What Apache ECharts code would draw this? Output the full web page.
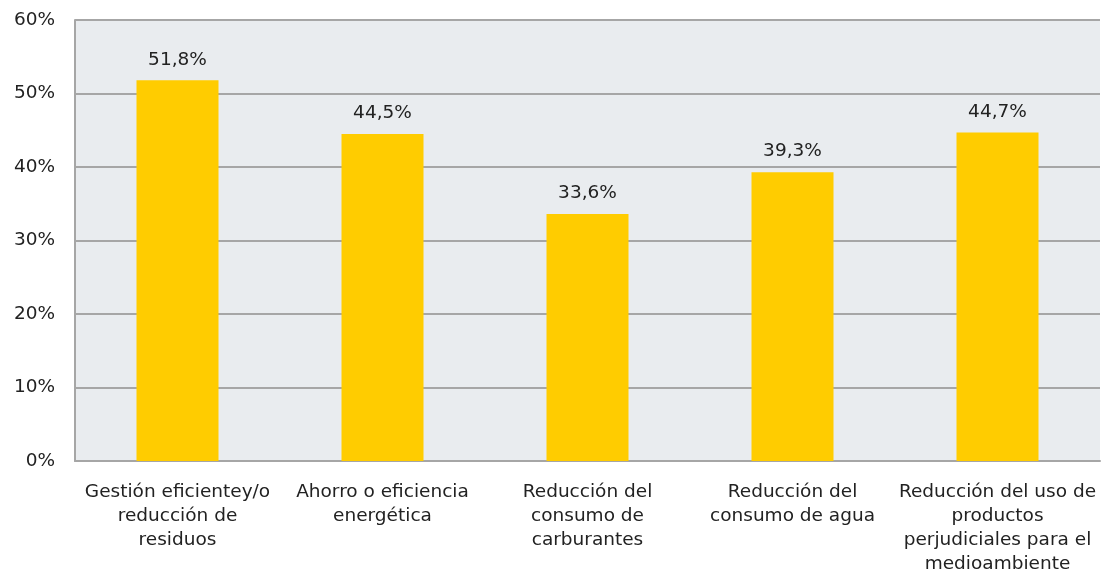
<!DOCTYPE html>
<html><head><meta charset="utf-8">
<script src="https://cdn.jsdelivr.net/npm/echarts@6/dist/echarts.min.js"></script>
<style>html,body{margin:0;padding:0;background:#fff}#c{width:1104px;height:576px}</style>
</head><body><div id="c"></div>
<script>
const categories = ["Gestión eficientey/o\nreducción de\nresiduos", "Ahorro o eficiencia\nenergética", "Reducción del\nconsumo de\ncarburantes", "Reducción del\nconsumo de agua", "Reducción del uso de\nproductos\nperjudiciales para el\nmedioambiente"];
const values = [51.8, 44.5, 33.6, 39.3, 44.7];
const yTicks = [0, 10, 20, 30, 40, 50, 60];
const font = "'DejaVu Sans', Verdana, sans-serif";
const chart = echarts.init(document.getElementById('c'));
chart.setOption({
  animation: false,
  grid: { left: 75, right: 4, top: 20, bottom: 114, backgroundColor: '#e9ecef', show: true, borderWidth: 0 },
  xAxis: {
    type: 'category', data: categories,
    axisLine: { show: true, lineStyle: { color: '#a6a6a6', width: 2 } },
    axisTick: { show: false },
    axisLabel: { color: '#222', fontFamily: font, fontSize: 18.5, lineHeight: 24, margin: 19, interval: 0 }
  },
  yAxis: {
    type: 'value', min: yTicks[0], max: yTicks[yTicks.length - 1], interval: 10,
    axisLine: { show: true, lineStyle: { color: '#a6a6a6', width: 2 } }, axisTick: { show: false },
    splitLine: { lineStyle: { color: '#a6a6a6', width: 2 } },
    axisLabel: { color: '#222', fontFamily: font, fontSize: 18.5, margin: 20, formatter: v => v + '%' }
  },
  series: [{
    type: 'bar', data: values, barWidth: '40%',
    itemStyle: { color: '#ffcc00' },
    label: { show: true, position: 'top', distance: 11, color: '#222', fontFamily: font, fontSize: 18.5,
      formatter: p => p.value.toFixed(1).replace('.', ',') + '%' }
  }]
});
</script></body></html>
